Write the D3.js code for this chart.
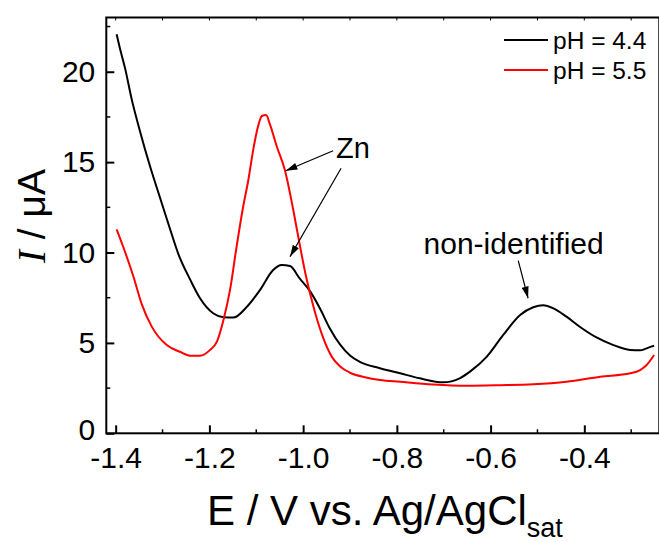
<!DOCTYPE html>
<html lang="en">
  <head>
    <meta charset="utf-8" />
    <title>Zn stripping voltammograms</title>
    <script src="https://cdnjs.cloudflare.com/ajax/libs/d3/7.8.5/d3.min.js"></script>
    <style>
      body {
        margin: 0;
        background: #fff;
      }
      text {
        font-family: "Liberation Sans", Arial, sans-serif;
        fill: #000;
      }
    </style>
  </head>
  <body>
    <script>
      // pH = 4.4 (black)
      var potential44 = [
        -1.398, -1.391, -1.38, -1.366, -1.348, -1.327, -1.305, -1.284, -1.266,
        -1.241, -1.22, -1.192, -1.17, -1.149, -1.12, -1.092, -1.064, -1.046,
        -1.028, -1.007, -0.985, -0.964, -0.943, -0.921, -0.9, -0.879, -0.836,
        -0.793, -0.751, -0.701, -0.666, -0.644, -0.608, -0.573, -0.537, -0.509,
        -0.488, -0.466, -0.438, -0.409, -0.374, -0.338, -0.302, -0.281, -0.267,
        -0.251,
      ];
      var current44 = [
        22.07, 21.3, 20.2, 18.5, 16.7, 14.8, 13.0, 11.3, 9.9, 8.5, 7.47, 6.64,
        6.42, 6.4, 7.0, 7.93, 9.03, 9.31, 9.25, 8.55, 7.85, 6.9, 5.8, 4.9, 4.3,
        3.95, 3.6, 3.32, 3.04, 2.82, 3.04, 3.41, 4.24, 5.44, 6.54, 6.97, 7.08,
        6.91, 6.45, 5.88, 5.3, 4.88, 4.61, 4.59, 4.7, 4.85,
      ];

      // pH = 5.5 (red)
      var potential55 = [
        -1.398, -1.384, -1.362, -1.345, -1.323, -1.291, -1.263, -1.241, -1.22,
        -1.199, -1.184, -1.17, -1.156, -1.142, -1.128, -1.117, -1.105, -1.096,
        -1.088, -1.079, -1.071, -1.056, -1.039, -1.021, -1.007, -0.994, -0.981,
        -0.968, -0.953, -0.938, -0.921, -0.9, -0.868, -0.836, -0.793, -0.723,
        -0.651, -0.58, -0.509, -0.438, -0.366, -0.302, -0.281, -0.267, -0.251,
      ];
      var current55 = [
        11.28, 10.32, 8.66, 7.19, 5.9, 4.88, 4.51, 4.29, 4.29, 4.6, 5.07, 6.27,
        7.93, 10.32, 12.53, 14.0, 15.9, 17.0, 17.55, 17.6, 17.1, 15.85, 14.56,
        12.35, 10.4, 8.7, 7.3, 6.1, 5.0, 4.2, 3.7, 3.35, 3.1, 2.95, 2.85, 2.7,
        2.63, 2.66, 2.71, 2.85, 3.13, 3.32, 3.5, 3.78, 4.33,
      ];

      var xTicks = [-1.4, -1.2, -1.0, -0.8, -0.6, -0.4];
      var xMinorTicks = [-1.3, -1.1, -0.9, -0.7, -0.5, -0.3];
      var yTicks = [0, 5, 10, 15, 20];
      var yMinorTicks = [2.5, 7.5, 12.5, 17.5, 22.5];

      var legendLabels = ["pH = 4.4", "pH = 5.5"];
      var legendColors = ["#000000", "#ff0000"];

      // annotations in data units: label, label position, arrows [E0, I0, E1, I1]
      var labels = [
        ["Zn", -0.93, 15.23],
        ["non-identified", -0.743, 9.9],
      ];
      var arrows = [
        [-0.936, 15.63, -1.037, 14.52],
        [-0.919, 14.66, -1.028, 9.77],
        [-0.541, 9.55, -0.52, 7.47],
      ];

      var width = 659,
        height = 542;

      var x = d3.scaleLinear().domain([-1.42, -0.24]).range([106.3, 659.3]);
      var y = d3.scaleLinear().domain([0, 23]).range([433.3, 17.5]);

      var svg = d3
        .select("body")
        .append("svg")
        .attr("width", width)
        .attr("height", height);

      svg
        .append("defs")
        .append("marker")
        .attr("id", "head")
        .attr("viewBox", "0 0 10 6")
        .attr("refX", 10)
        .attr("refY", 3)
        .attr("markerUnits", "userSpaceOnUse")
        .attr("markerWidth", 12)
        .attr("markerHeight", 7)
        .attr("orient", "auto")
        .append("path")
        .attr("d", "M0,0L10,3L0,6Z")
        .attr("fill", "#000");

      // ticks (all pointing inward)
      var xAxis = d3
        .axisBottom(x)
        .tickValues(xTicks)
        .tickSize(-8)
        .tickSizeOuter(0)
        .tickPadding(13);
      var gx = svg
        .append("g")
        .attr("transform", "translate(0," + y(0) + ")")
        .call(xAxis);
      gx.select(".domain").remove();
      gx.selectAll("line").attr("stroke-width", 2);
      gx.selectAll("text").style("font-size", "30px").text(function (d) {
        return d3.format(".1f")(d).replace("\u2212", "-");
      });

      svg
        .append("g")
        .selectAll("line")
        .data(xMinorTicks)
        .enter()
        .append("line")
        .attr("x1", function (d) {
          return x(d);
        })
        .attr("x2", function (d) {
          return x(d);
        })
        .attr("y1", y(0))
        .attr("y2", y(0) - 4)
        .attr("stroke", "#000")
        .attr("stroke-width", 1.5);

      // small mirrored ticks on top edge
      svg
        .append("g")
        .selectAll("line")
        .data(xTicks.concat(xMinorTicks))
        .enter()
        .append("line")
        .attr("x1", function (d) {
          return x(d);
        })
        .attr("x2", function (d) {
          return x(d);
        })
        .attr("y1", y(23))
        .attr("y2", y(23) + 3)
        .attr("stroke", "#000")
        .attr("stroke-width", 1);

      var yAxis = d3
        .axisLeft(y)
        .tickValues(yTicks)
        .tickSize(-8)
        .tickSizeOuter(0)
        .tickPadding(11);
      var gy = svg
        .append("g")
        .attr("transform", "translate(" + x(-1.42) + ",0)")
        .call(yAxis);
      gy.select(".domain").remove();
      gy.selectAll("line").attr("stroke-width", 2);
      gy.selectAll("text").style("font-size", "30px");
      // lift the "0" a touch so it clears "-1.4"
      gy.selectAll(".tick")
        .filter(function (d) {
          return d === 0;
        })
        .select("text")
        .attr("dy", "0.2em");

      svg
        .append("g")
        .selectAll("line")
        .data(yMinorTicks)
        .enter()
        .append("line")
        .attr("x1", x(-1.42))
        .attr("x2", x(-1.42) + 4)
        .attr("y1", function (d) {
          return y(d);
        })
        .attr("y2", function (d) {
          return y(d);
        })
        .attr("stroke", "#000")
        .attr("stroke-width", 1.5);

      // frame
      svg
        .append("rect")
        .attr("x", x(-1.42))
        .attr("y", y(23))
        .attr("width", x(-0.24) - x(-1.42))
        .attr("height", y(0) - y(23))
        .attr("fill", "none")
        .attr("stroke", "#000")
        .attr("stroke-width", 2);

      // curves
      var line = d3
        .line()
        .x(function (d) {
          return x(d[0]);
        })
        .y(function (d) {
          return y(d[1]);
        })
        .curve(d3.curveMonotoneX);

      var series = [
        [d3.zip(potential44, current44), legendColors[0]],
        [d3.zip(potential55, current55), legendColors[1]],
      ];
      svg
        .selectAll(".curve")
        .data(series)
        .enter()
        .append("path")
        .attr("class", "curve")
        .attr("d", function (d) {
          return line(d[0]);
        })
        .attr("fill", "none")
        .attr("stroke", function (d) {
          return d[1];
        })
        .attr("stroke-width", 2)
        .attr("stroke-linejoin", "round");

      // legend
      var legend = svg
        .selectAll(".legend")
        .data(legendLabels)
        .enter()
        .append("g")
        .attr("class", "legend")
        .attr("transform", function (d, i) {
          return "translate(0," + (40 + i * 30) + ")";
        });
      legend
        .append("line")
        .attr("x1", 504)
        .attr("x2", 548)
        .attr("stroke", function (d, i) {
          return legendColors[i];
        })
        .attr("stroke-width", 2);
      legend
        .append("text")
        .attr("x", 553)
        .attr("y", 9)
        .style("font-size", "24.5px")
        .text(function (d) {
          return d;
        });

      // annotations
      svg
        .selectAll(".label")
        .data(labels)
        .enter()
        .append("text")
        .attr("class", "label")
        .attr("x", function (d) {
          return x(d[1]);
        })
        .attr("y", function (d) {
          return y(d[2]);
        })
        .style("font-size", function (d, i) {
          return i === 0 ? "29px" : "30px";
        })
        .text(function (d) {
          return d[0];
        });

      svg
        .selectAll(".arrow")
        .data(arrows)
        .enter()
        .append("line")
        .attr("class", "arrow")
        .attr("x1", function (d) {
          return x(d[0]);
        })
        .attr("y1", function (d) {
          return y(d[1]);
        })
        .attr("x2", function (d) {
          return x(d[2]);
        })
        .attr("y2", function (d) {
          return y(d[3]);
        })
        .attr("stroke", "#000")
        .attr("stroke-width", 1.2)
        .attr("marker-end", "url(#head)");

      // axis titles
      var xTitle = svg
        .append("text")
        .attr("x", 207)
        .attr("y", 525)
        .style("font-size", "42px");
      xTitle.append("tspan").text("E / V vs. Ag/AgCl");
      xTitle
        .append("tspan")
        .attr("dy", 12)
        .style("font-size", "27px")
        .text("sat");

      var yTitle = svg
        .append("text")
        .attr("transform", "translate(45,216) rotate(-90)")
        .attr("text-anchor", "middle")
        .style("font-size", "39px");
      yTitle
        .append("tspan")
        .style("font-family", "'Liberation Serif', 'Times New Roman', serif")
        .style("font-style", "italic")
        .text("I");
      yTitle.append("tspan").text(" / \u03bcA");
    </script>
  </body>
</html>
